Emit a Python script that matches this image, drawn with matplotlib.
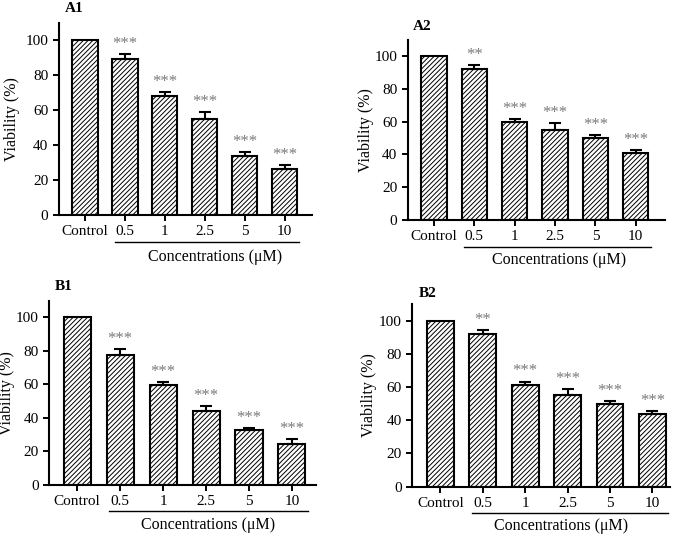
import numpy as np
import matplotlib.pyplot as plt

# ================= DATA ================= #
CATEGORIES = ["Control", "0.5", "1", "2.5", "5", "10"]

A1_MEAN = [100, 89, 68.2, 54.9, 33.9, 26.3]
A1_ERR = [0, 3.0, 1.8, 4.0, 2.3, 2.3]
A1_SIG = ["", "***", "***", "***", "***", "***"]

A2_MEAN = [100, 92, 60, 55, 50.2, 40.9]
A2_ERR = [0, 2.6, 1.8, 4.3, 1.4, 1.6]
A2_SIG = ["", "**", "***", "***", "***", "***"]

B1_MEAN = [100, 77.7, 59.7, 43.8, 32.7, 24.3]
B1_ERR = [0, 3.5, 1.7, 3.4, 1.3, 2.8]
B1_SIG = ["", "***", "***", "***", "***", "***"]

B2_MEAN = [100, 91.8, 61.3, 55.1, 49.7, 43.9]
B2_ERR = [0, 2.4, 2.0, 3.8, 1.6, 1.4]
B2_SIG = ["", "**", "***", "***", "***", "***"]

# ================= STYLE ================= #
plt.rcParams["font.family"] = ["Liberation Serif", "DejaVu Serif"]
plt.rcParams["hatch.linewidth"] = 0.7
plt.rcParams["hatch.color"] = "#4a4a4a"

PT = 0.72  # points per pixel at dpi 100

# name, axes rect, xlim, panel label pos, ylabel x (axes frac, right edge),
# underline offset px, xlabel offset px, xlabel center
PANELS = [
    ("A1", [0.0858, 0.599, 0.370, 0.359], (-0.66, 5.68), (0.095, 0.985), -0.153, 27, 42, 3.25, A1_MEAN, A1_ERR, A1_SIG),
    ("A2", [0.596, 0.5896, 0.376, 0.3366], (-0.65, 5.72), (0.604, 0.951), -0.131, 27, 40, 3.1, A2_MEAN, A2_ERR, A2_SIG),
    ("B1", [0.072, 0.0957, 0.390, 0.3435], (-0.65, 5.56), (0.080, 0.466), -0.129, 26, 40, 3.05, B1_MEAN, B1_ERR, B1_SIG),
    ("B2", [0.603, 0.092, 0.376, 0.341], (-0.66, 5.41), (0.612, 0.4515), -0.139, 26, 39, 2.85, B2_MEAN, B2_ERR, B2_SIG),
]

fig = plt.figure(figsize=(6.84, 5.36), dpi=100)

for name, rect, xlim, lpos, ylab_x, ul_off, xl_off, xl_c, mean, err, sig in PANELS:
    ax = fig.add_axes(rect)
    x = np.arange(len(CATEGORIES))
    ax.bar(x, mean, width=0.63, color="white", edgecolor="black",
           linewidth=1.5, hatch="///////", zorder=2)
    ax.errorbar(x[1:], mean[1:], yerr=[np.zeros(len(x) - 1), err[1:]],
                fmt="none", ecolor="black", elinewidth=1.5, capsize=4,
                capthick=1.5, zorder=3)
    for xi, m, e, s in zip(x, mean, err, sig):
        if s:
            ax.annotate(s, (xi, m + e), xytext=(0, 1.5), textcoords="offset points",
                        ha="center", va="bottom", fontsize=12, color="#7a7a7a")

    ax.set_xlim(*xlim)
    ax.set_ylim(0, 110)
    ax.set_yticks([0, 20, 40, 60, 80, 100])
    ax.set_xticks(x)
    ax.set_xticklabels(CATEGORIES)
    ax.tick_params(axis="both", labelsize=11, width=1.4, length=4, direction="out", colors="black")
    ax.spines["top"].set_visible(False)
    ax.spines["right"].set_visible(False)
    ax.spines["left"].set_linewidth(1.5)
    ax.spines["bottom"].set_linewidth(1.5)
    ax.set_ylabel("Viability (%)", fontsize=11.5)
    ax.yaxis.set_label_coords(ylab_x, 0.5)

    # underline under the concentration groups
    tr = ax.get_xaxis_transform()
    line_y = -ul_off / (rect[3] * 536)
    ax.plot([0.75, 5.37], [line_y, line_y], transform=tr, color="black",
            linewidth=1.0, clip_on=False)
    ax.annotate("Concentrations (\u03bcM)", xy=(xl_c, 0), xycoords=tr,
                xytext=(0, -xl_off * PT), textcoords="offset points",
                ha="center", va="center", fontsize=11.5)

    fig.text(lpos[0], lpos[1], name, fontsize=11, fontweight="bold",
             ha="left", va="center")

fig.savefig("out.png", dpi=100)
